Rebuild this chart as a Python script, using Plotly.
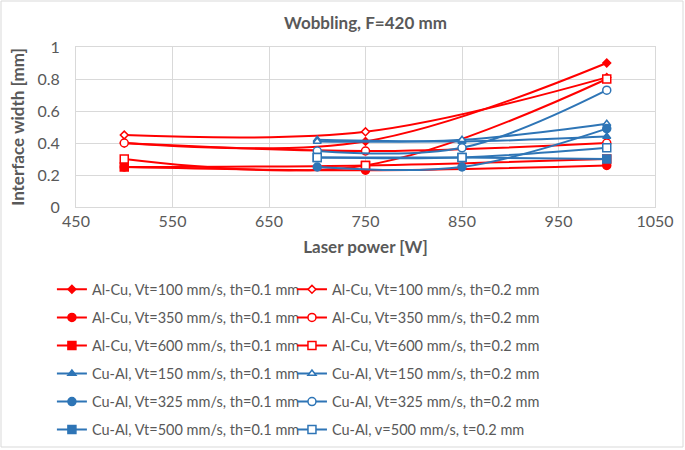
import plotly.graph_objects as go

# ---- data ----
x_alcu = [500, 750, 1000]
x_cual = [700, 850, 1000]

alcu_v100_t01 = [0.40, 0.41, 0.90]
alcu_v100_t02 = [0.45, 0.47, 0.81]
alcu_v350_t01 = [0.25, 0.23, 0.26]
alcu_v350_t02 = [0.40, 0.35, 0.40]
alcu_v600_t01 = [0.25, 0.26, 0.30]
alcu_v600_t02 = [0.30, 0.26, 0.80]

cual_v150_t01 = [0.42, 0.41, 0.44]
cual_v150_t02 = [0.41, 0.42, 0.52]
cual_v325_t01 = [0.25, 0.25, 0.49]
cual_v325_t02 = [0.35, 0.37, 0.73]
cual_v500_t01 = [0.31, 0.31, 0.30]
cual_v500_t02 = [0.31, 0.31, 0.37]

names = [
    "Al-Cu, Vt=100 mm/s, th=0.1 mm", "Al-Cu, Vt=100 mm/s, th=0.2 mm",
    "Al-Cu, Vt=350 mm/s, th=0.1 mm", "Al-Cu, Vt=350 mm/s, th=0.2 mm",
    "Al-Cu, Vt=600 mm/s, th=0.1 mm", "Al-Cu, Vt=600 mm/s, th=0.2 mm",
    "Cu-Al, Vt=150 mm/s, th=0.1 mm", "Cu-Al, Vt=150 mm/s, th=0.2 mm",
    "Cu-Al, Vt=325 mm/s, th=0.1 mm", "Cu-Al, Vt=325 mm/s, th=0.2 mm",
    "Cu-Al, Vt=500 mm/s, th=0.1 mm", "Cu-Al, v=500 mm/s, t=0.2 mm",
]

RED = "#FF0000"
BLUE = "#2E75B6"
FONT = "Lato"
GREY = "#595959"

series = [
    (x_alcu, alcu_v100_t01, RED, "diamond", 6, True),
    (x_alcu, alcu_v100_t02, RED, "diamond", 6, False),
    (x_alcu, alcu_v350_t01, RED, "circle", 8, True),
    (x_alcu, alcu_v350_t02, RED, "circle", 8, False),
    (x_alcu, alcu_v600_t01, RED, "square", 8, True),
    (x_alcu, alcu_v600_t02, RED, "square", 8, False),
    (x_cual, cual_v150_t01, BLUE, "triangle-up", 7, True),
    (x_cual, cual_v150_t02, BLUE, "triangle-up", 7, False),
    (x_cual, cual_v325_t01, BLUE, "circle", 8, True),
    (x_cual, cual_v325_t02, BLUE, "circle", 8, False),
    (x_cual, cual_v500_t01, BLUE, "square", 8, True),
    (x_cual, cual_v500_t02, BLUE, "square", 8, False),
]

fig = go.Figure()
for i, (xs, ys, col, sym, sz, filled) in enumerate(series):
    fig.add_trace(go.Scatter(
        x=xs, y=ys, name=names[i], mode="lines+markers",
        line=dict(color=col, width=2, shape="spline", smoothing=1.0),
        marker=dict(symbol=sym, size=sz, color=col if filled else "white",
                    line=dict(color=col, width=1.5)),
        legend="legend" if filled else "legend2",
        legendgroup="g%d" % i,
    ))

fig.update_layout(
    width=685, height=450,
    margin=dict(l=76, r=30, t=47, b=243, autoexpand=False),
    paper_bgcolor="white", plot_bgcolor="white",
    font=dict(family=FONT, size=15, color=GREY),
    title=dict(text="<b>Wobbling, F=420 mm</b>", x=0.5, xref="paper",
               xanchor="center", y=1 - 23 / 450, yanchor="middle",
               font=dict(family=FONT, size=17, color=GREY)),
    xaxis=dict(range=[450, 1050], dtick=100, tick0=450,
               showgrid=True, gridcolor="#D9D9D9", gridwidth=1,
               showline=True, linecolor="#D9D9D9", mirror=True,
               zeroline=False, ticks="",
               tickfont=dict(family=FONT, size=16, color=GREY),
               title=dict(text="<b>Laser power [W]</b>", standoff=11,
                          font=dict(family=FONT, size=17, color=GREY))),
    yaxis=dict(range=[0, 1], dtick=0.2,
               showgrid=True, gridcolor="#D9D9D9", gridwidth=1,
               showline=True, linecolor="#D9D9D9", mirror=True,
               zeroline=False, ticks="outside", ticklen=12,
               tickcolor="rgba(0,0,0,0)",
               tickfont=dict(family=FONT, size=16, color=GREY),
               title=dict(text="<b>Interface width [mm]</b>", standoff=8,
                          font=dict(family=FONT, size=17, color=GREY))),
    legend=dict(x=-0.0416, y=-0.415, xanchor="left", yanchor="top",
                orientation="v", tracegroupgap=6.2, bgcolor="rgba(0,0,0,0)",
                font=dict(family=FONT, size=14.5, color=GREY)),
    legend2=dict(x=0.373, y=-0.415, xanchor="left", yanchor="top",
                 orientation="v", tracegroupgap=6.2, bgcolor="rgba(0,0,0,0)",
                 font=dict(family=FONT, size=14.5, color=GREY)),
    showlegend=True,
)

# outer chart border
fig.add_shape(type="rect", xref="paper", yref="paper",
              x0=(1 - 76) / 579, x1=(683 - 76) / 579,
              y0=(207 - 447) / 160, y1=(207 - 1) / 160,
              line=dict(color="#D9D9D9", width=1), fillcolor="rgba(0,0,0,0)",
              layer="below")

fig.write_html("out.html", config={"displayModeBar": False},
               post_script="document.body.style.margin='0';")
